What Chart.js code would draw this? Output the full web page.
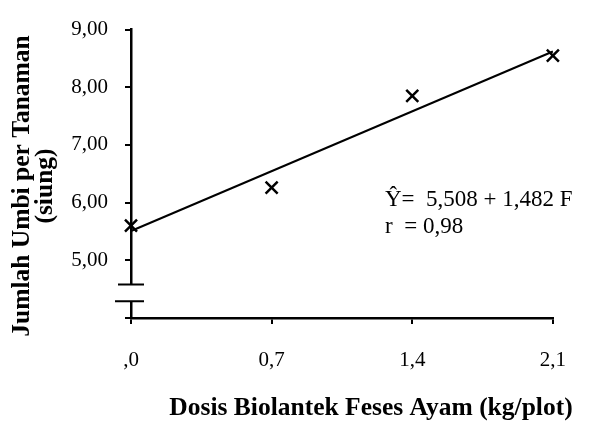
<!DOCTYPE html>
<html>
<head>
<meta charset="utf-8">
<script src="https://cdn.jsdelivr.net/npm/chart.js@4"></script>
<style>
  body { margin: 0; background: #fff; }
  #wrap { width: 590px; height: 425px; position: relative; }
</style>
</head>
<body>
<div id="wrap"><canvas id="dose-chart"></canvas></div>
<script>
// data
const doses = [0, 0.7, 1.4, 2.1];
const tubers = [5.60, 6.26, 7.85, 8.55];
const doseTicks = [0, 0.7, 1.4, 2.1];
const doseTickLabels = [',0', '0,7', '1,4', '2,1'];
const tuberTicks = [4, 5, 6, 7, 8, 9];
const trendX = [0, 2.1];
const trendY = [5.508, 8.620];
const equationLines = ['Ŷ=  5,508 + 1,482 F', 'r  = 0,98'];
const breakValues = [4.58, 4.29];

Chart.defaults.font.family = "'Liberation Serif', 'Times New Roman', serif";
Chart.defaults.color = '#000';

const doseCanvas = document.getElementById('dose-chart');

// axis break, regression text and axis titles
const extras = {
    id: 'extras',
    afterDraw(chart) {
        const ctx = chart.ctx;
        const x = chart.scales.x, y = chart.scales.y;
        const ax = x.getPixelForValue(0);
        const yTop = y.getPixelForValue(breakValues[0]);
        const yBot = y.getPixelForValue(breakValues[1]);
        ctx.save();
        ctx.fillStyle = '#fff';
        ctx.fillRect(ax - 3, yTop, 6, yBot - yTop);
        ctx.strokeStyle = '#000';
        ctx.lineWidth = 2;
        ctx.beginPath();
        ctx.moveTo(ax - 13, yTop); ctx.lineTo(ax + 13, yTop);
        ctx.moveTo(ax - 16, yBot); ctx.lineTo(ax + 13, yBot);
        ctx.stroke();

        ctx.fillStyle = '#000';
        ctx.font = "23px 'Liberation Serif'";
        ctx.textAlign = 'left';
        ctx.textBaseline = 'alphabetic';
        ctx.fillText(equationLines[0], 385, 206);
        ctx.fillText(equationLines[1], 385, 233);

        ctx.font = "bold 25.5px 'Liberation Serif'";
        ctx.textAlign = 'center';
        ctx.fillText('Dosis Biolantek Feses Ayam (kg/plot)', 371, 415);

        ctx.translate(0, 186);
        ctx.rotate(-Math.PI / 2);
        ctx.fillText('Jumlah Umbi per Tanaman', 0, 29);
        ctx.fillText('(siung)', 0, 52);
        ctx.restore();
    }
};

let doseData = {
    datasets: [{
        type: 'scatter',
        data: doses.map((d, i) => ({x: d, y: tubers[i]})),
        pointStyle: 'crossRot',
        pointRadius: 8.5,
        pointBorderWidth: 2.5,
        borderColor: '#000',
        backgroundColor: '#000',
        clip: false,
        order: 0
    }, {
        type: 'line',
        data: trendX.map((d, i) => ({x: d, y: trendY[i]})),
        borderColor: '#000',
        borderWidth: 2,
        pointRadius: 0,
        fill: false,
        clip: false,
        order: 1
    }]
};

let doseOptions = {
    responsive: true,
    maintainAspectRatio: false,
    animation: false,
    layout: {
        padding: {left: 0, right: 15, top: 22, bottom: 0}
    },
    scales: {
        x: {
            type: 'linear',
            min: 0,
            max: 2.1,
            afterBuildTicks: scale => { scale.ticks = doseTicks.map(v => ({value: v})); },
            afterFit: scale => { scale.height = 107; },
            ticks: {
                font: {size: 21},
                padding: 24,
                maxRotation: 0,
                callback: (v, i) => doseTickLabels[i]
            },
            grid: {display: true, drawOnChartArea: false, drawTicks: true, tickLength: 6, color: '#000', lineWidth: 2},
            border: {display: true, color: '#000', width: 2.5}
        },
        y: {
            min: 4,
            max: 9,
            afterBuildTicks: scale => { scale.ticks = tuberTicks.map(v => ({value: v})); },
            afterFit: scale => { scale.width = 131; },
            ticks: {
                font: {size: 21},
                padding: 17,
                callback: v => v === 4 ? '' : v.toFixed(2).replace('.', ',')
            },
            grid: {display: true, drawOnChartArea: false, drawTicks: true, tickLength: 6, color: '#000', lineWidth: 2},
            border: {display: true, color: '#000', width: 2.5}
        }
    },
    plugins: {
        legend: {display: false},
        tooltip: {enabled: false}
    }
};

let doseChart = new Chart(doseCanvas, {
    data: doseData,
    options: doseOptions,
    plugins: [extras]
});
</script>
</body>
</html>
